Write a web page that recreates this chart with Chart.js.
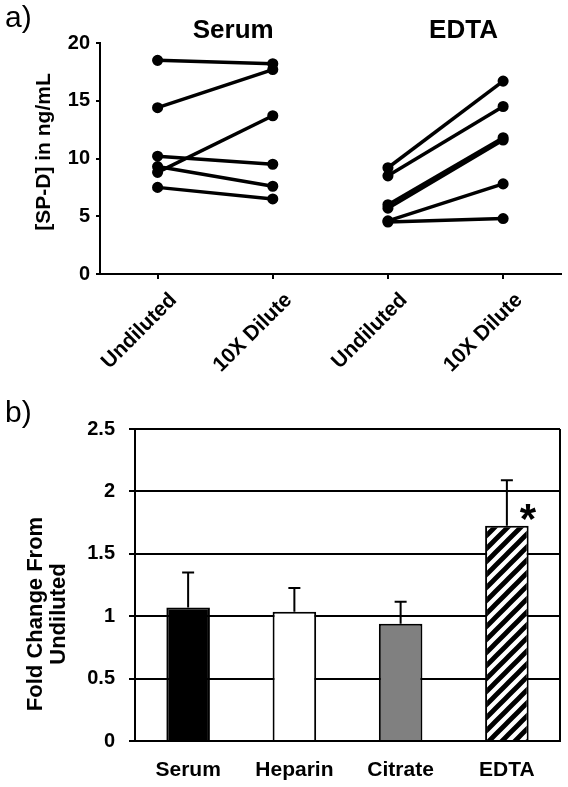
<!DOCTYPE html>
<html>
<head>
<meta charset="utf-8">
<script src="https://cdn.jsdelivr.net/npm/chart.js@4.4.1/dist/chart.umd.min.js"></script>
<style>
  body { margin: 0; background: #fff; }
  #wrap { position: relative; width: 568px; height: 787px; }
  canvas { position: absolute; left: 0; }
  #chartA { top: 0; }
  #chartB { top: 385px; }
</style>
</head>
<body>
<div id="wrap">
  <canvas id="chartA" width="568" height="385"></canvas>
  <canvas id="chartB" width="568" height="402"></canvas>
</div>
<script>
// panel a) paired samples, undiluted vs 10x dilution
var pairLabels = ['Undiluted', '10X Dilute', 'Undiluted', '10X Dilute'];
var groupNames = ['Serum', 'EDTA'];
var serumUndiluted = [18.5, 14.4, 8.8, 10.2, 9.3, 7.5];
var serumDiluted   = [18.2, 17.7, 13.7, 9.5, 7.6, 6.5];
var edtaUndiluted  = [9.2, 8.5, 6.0, 5.7, 4.6, 4.5];
var edtaDiluted    = [16.7, 14.5, 11.8, 11.6, 7.8, 4.8];

// panel b) fold change
var tubeLabels = ['Serum', 'Heparin', 'Citrate', 'EDTA'];
var foldChange = [1.07, 1.035, 0.94, 1.725];
var foldError  = [0.28, 0.19, 0.175, 0.365];

var FONT = '"Liberation Sans", Arial, Helvetica, sans-serif';
Chart.defaults.font.family = FONT;
Chart.defaults.color = '#000';

var lineSets = [];
serumUndiluted.forEach(function (v, i) {
  lineSets.push({ data: [v, serumDiluted[i], null, null] });
});
edtaUndiluted.forEach(function (v, i) {
  lineSets.push({ data: [null, null, v, edtaDiluted[i]] });
});
lineSets.forEach(function (d) {
  d.borderColor = '#000';
  d.backgroundColor = '#000';
  d.borderWidth = 3.5;
  d.pointRadius = 3.8;
  d.pointHoverRadius = 3.8;
  d.spanGaps = false;
});

var panelA = {
  id: 'panelA',
  afterDraw: function (chart) {
    var ctx = chart.ctx, x = chart.scales.x;
    ctx.save();
    ctx.fillStyle = '#000';
    ctx.font = '30px ' + FONT;
    ctx.textAlign = 'left';
    ctx.textBaseline = 'alphabetic';
    ctx.fillText('a)', 5, 27);
    ctx.font = 'bold 26px ' + FONT;
    ctx.textAlign = 'center';
    groupNames.forEach(function (g, i) {
      var cx = (x.getPixelForValue(i * 2) + x.getPixelForValue(i * 2 + 1)) / 2 + 18;
      ctx.fillText(g, cx, 38);
    });
    ctx.translate(44, 152);
    ctx.rotate(-Math.PI / 2);
    ctx.font = 'bold 21px ' + FONT;
    ctx.textBaseline = 'middle';
    ctx.fillText('[SP-D] in ng/mL', 0, 0);
    ctx.restore();
  }
};

new Chart(document.getElementById('chartA'), {
  type: 'line',
  data: { labels: pairLabels, datasets: lineSets },
  options: {
    responsive: false,
    animation: false,
    devicePixelRatio: 1,
    layout: { padding: { top: 43, right: 6, left: 0, bottom: 0 } },
    plugins: { legend: { display: false }, tooltip: { enabled: false } },
    scales: {
      x: {
        offset: true,
        afterFit: function (s) { s.height = 111; },
        border: { display: true, color: '#000', width: 2 },
        grid: { drawOnChartArea: false, drawTicks: true, tickLength: 5, color: '#000', lineWidth: 2 },
        ticks: {
          autoSkip: false, minRotation: 45, maxRotation: 45, labelOffset: 16, padding: 9,
          font: { size: 21, weight: 'bold' }, color: '#000'
        }
      },
      y: {
        min: 0, max: 20,
        afterFit: function (s) { s.width = 100; },
        border: { display: true, color: '#000', width: 2 },
        grid: { drawOnChartArea: false, drawTicks: true, tickLength: 4, color: '#000', lineWidth: 2 },
        ticks: { stepSize: 5, padding: 6, font: { size: 20, weight: 'bold' }, color: '#000' }
      }
    }
  },
  plugins: [panelA]
});

// diagonal hatch for the EDTA bar
var hatch = (function () {
  var c = document.createElement('canvas');
  c.width = 13; c.height = 13;
  var g = c.getContext('2d');
  g.fillStyle = '#fff';
  g.fillRect(0, 0, 13, 13);
  g.strokeStyle = '#000';
  g.lineWidth = 4.8;
  g.beginPath();
  g.moveTo(-3, 16); g.lineTo(16, -3);
  g.moveTo(-3, 3); g.lineTo(3, -3);
  g.moveTo(10, 16); g.lineTo(16, 10);
  g.stroke();
  return g.createPattern(c, 'repeat');
})();

var panelB = {
  id: 'panelB',
  beforeDatasetsDraw: function (chart) {
    var ctx = chart.ctx, a = chart.chartArea;
    ctx.save();
    ctx.strokeStyle = '#000';
    ctx.lineWidth = 2;
    ctx.beginPath();
    ctx.moveTo(a.right, a.top);
    ctx.lineTo(a.right, a.bottom);
    ctx.stroke();
    ctx.restore();
  },
  afterDatasetsDraw: function (chart) {
    var ctx = chart.ctx, y = chart.scales.y;
    var meta = chart.getDatasetMeta(0);
    ctx.save();
    ctx.strokeStyle = '#000';
    ctx.lineWidth = 2;
    ctx.beginPath();
    meta.data.forEach(function (bar, i) {
      var top = y.getPixelForValue(foldChange[i] + foldError[i]);
      ctx.moveTo(bar.x, bar.y);
      ctx.lineTo(bar.x, top);
      ctx.moveTo(bar.x - 6, top);
      ctx.lineTo(bar.x + 6, top);
    });
    ctx.stroke();
    var last = meta.data[3];
    ctx.fillStyle = '#000';
    ctx.font = 'bold 42px ' + FONT;
    ctx.textAlign = 'center';
    ctx.textBaseline = 'alphabetic';
    ctx.fillText('*', last.x + 21, last.y + 7);
    ctx.restore();
  },
  afterDraw: function (chart) {
    var ctx = chart.ctx;
    ctx.save();
    ctx.fillStyle = '#000';
    ctx.font = '30px ' + FONT;
    ctx.textAlign = 'left';
    ctx.textBaseline = 'alphabetic';
    ctx.fillText('b)', 5, 37);
    ctx.translate(0, 229);
    ctx.rotate(-Math.PI / 2);
    ctx.font = 'bold 22px ' + FONT;
    ctx.textAlign = 'center';
    ctx.textBaseline = 'middle';
    ctx.fillText('Fold Change From', 0, 36);
    ctx.fillText('Undiluted', 0, 59);
    ctx.restore();
  }
};

new Chart(document.getElementById('chartB'), {
  type: 'bar',
  data: {
    labels: tubeLabels,
    datasets: [{
      data: foldChange,
      backgroundColor: ['#000', '#fff', '#808080', hatch],
      borderColor: '#000',
      borderWidth: 2,
      borderSkipped: 'bottom',
      barPercentage: 0.41,
      categoryPercentage: 1
    }]
  },
  options: {
    responsive: false,
    animation: false,
    devicePixelRatio: 1,
    layout: { padding: { top: 44, right: 8, left: 0, bottom: 0 } },
    plugins: { legend: { display: false }, tooltip: { enabled: false } },
    scales: {
      x: {
        afterFit: function (s) { s.height = 46; },
        border: { display: true, color: '#000', width: 2 },
        grid: { display: true, drawOnChartArea: false, drawTicks: false },
        ticks: { padding: 17, font: { size: 21, weight: 'bold' }, color: '#000' }
      },
      y: {
        min: 0, max: 2.5,
        afterFit: function (s) { s.width = 135; },
        border: { display: true, color: '#000', width: 2 },
        grid: { color: '#000', lineWidth: 2, drawTicks: true, tickLength: 6 },
        ticks: {
          stepSize: 0.5, padding: 14, font: { size: 20, weight: 'bold' }, color: '#000',
          callback: function (v) { return String(v); }
        }
      }
    }
  },
  plugins: [panelB]
});
</script>
</body>
</html>
